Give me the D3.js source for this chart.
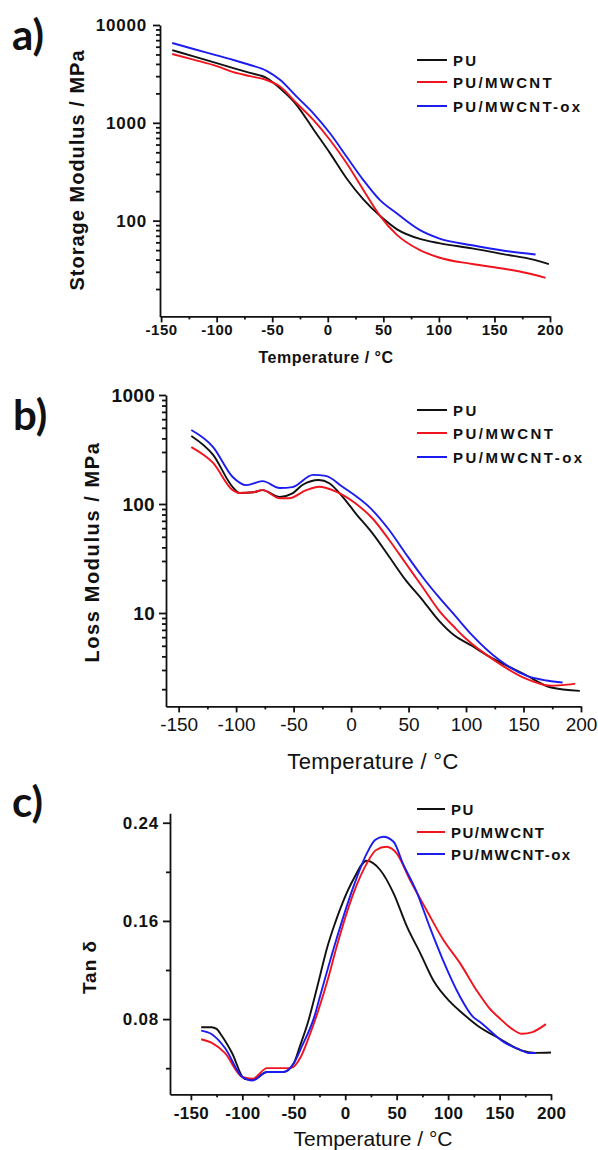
<!DOCTYPE html>
<html>
<head>
<meta charset="utf-8">
<script src="https://cdn.jsdelivr.net/npm/d3@7"></script>
<style>
  body { margin: 0; background: #fff; }
</style>
</head>
<body>
<div id="chart"></div>
<script>
// ---------- data ----------
const seriesNames = ["PU", "PU/MWCNT", "PU/MWCNT-ox"];
const seriesColors = ["#111111", "#f0141e", "#1c1cf0"];

const tempTicks = [-150, -100, -50, 0, 50, 100, 150, 200];

// a) storage modulus (MPa)
const storageT_PU = [-140, -120, -100, -85, -70, -55, -43, -28, -13, 2, 17, 32, 47, 62, 83, 100, 130, 160, 185, 199];
const storage_PU = [5540, 4750, 4070, 3630, 3240, 2870, 2250, 1520, 860, 490, 270, 165, 112, 82, 65, 59, 52, 45, 40, 36];
const storageT_CNT = [-140, -120, -100, -85, -70, -55, -43, -28, -13, 2, 17, 32, 47, 62, 83, 100, 130, 160, 180, 196];
const storage_CNT = [5050, 4400, 3800, 3300, 3000, 2740, 2350, 1585, 1070, 667, 386, 206, 112, 72, 50, 42, 36, 32, 29, 26];
const storageT_OX = [-140, -120, -100, -85, -70, -55, -43, -28, -13, 2, 17, 32, 47, 62, 83, 100, 130, 160, 187];
const storage_OX = [6550, 5650, 4900, 4390, 3900, 3400, 2750, 1850, 1250, 782, 450, 260, 162, 119, 80, 66, 56, 49, 45];
const storageTicks = [100, 1000, 10000];

// b) loss modulus (MPa)
const lossT_PU = [-139, -120, -103, -97, -85, -77, -62, -51, -42, -28, -19, -7.5, 4, 18.5, 33, 47.5, 62, 76, 90, 105, 120, 135, 150, 174, 199];
const loss_PU = [421, 282, 143, 126, 128, 134, 116, 125, 150, 166, 155, 117, 82, 54, 33, 20, 13.2, 8.6, 6.2, 5.0, 4.0, 3.3, 2.77, 2.07, 1.93];
const lossT_CNT = [-139, -120, -103, -97, -85, -77, -62, -54, -39, -28, -13, 4, 18.5, 33, 47.5, 62, 76, 91, 100, 126, 150, 174, 188, 195];
const loss_CNT = [333, 238, 134, 126, 128, 134, 113, 113, 134, 144, 130, 101, 74, 47, 28.6, 17.4, 10.7, 7.2, 5.8, 3.6, 2.55, 2.15, 2.2, 2.25];
const lossT_OX = [-139, -120, -103, -91, -77, -62, -51, -33, -22, -7.5, 18.5, 33, 47.5, 62, 76, 91, 105, 129, 153, 170, 184];
const loss_OX = [477, 333, 177, 149, 162, 140, 143, 185, 181, 144, 88, 58, 35, 21.5, 14.1, 9.3, 6.3, 3.7, 2.65, 2.4, 2.3];
const lossTicks = [10, 100, 1000];

// c) tan delta
const tanT_PU = [-140, -130, -125, -120, -110, -98, -90, -76, -60, -50, -44, -36, -30, -24, -18, -10, -2, 8, 21, 34, 47, 60, 73, 86, 102, 115, 128, 151, 171, 185, 200];
const tan_PU = [0.0734, 0.0734, 0.072, 0.0664, 0.0524, 0.0314, 0.0305, 0.0369, 0.0369, 0.044, 0.058, 0.078, 0.097, 0.117, 0.137, 0.158, 0.176, 0.194, 0.209, 0.2015, 0.1825, 0.1553, 0.1336, 0.111, 0.094, 0.084, 0.075, 0.0636, 0.0545, 0.0525, 0.0528];
const tanT_CNT = [-140, -130, -117, -100, -90, -76, -63, -53, -43, -35, -25, -17, -8, 8, 21, 30, 40, 50, 63, 79, 95, 112, 128, 140, 151, 162, 172, 182, 195];
const tan_CNT = [0.0636, 0.0608, 0.0524, 0.0328, 0.0314, 0.040, 0.040, 0.040, 0.0495, 0.066, 0.090, 0.112, 0.140, 0.1825, 0.2069, 0.2178, 0.2204, 0.215, 0.1933, 0.1689, 0.1450, 0.125, 0.103, 0.089, 0.0800, 0.072, 0.068, 0.0694, 0.0759];
const tanT_OX = [-140, -130, -117, -100, -90, -76, -60, -50, -42, -30, -24, -10, 8, 21, 29, 37, 47, 56, 70, 82, 95, 111, 124, 131, 155, 170, 178, 185];
const tan_OX = [0.0706, 0.0678, 0.0566, 0.0328, 0.0299, 0.0369, 0.0369, 0.044, 0.058, 0.082, 0.1, 0.141, 0.1879, 0.215, 0.2259, 0.2286, 0.2245, 0.2069, 0.1825, 0.1553, 0.1281, 0.0992, 0.082, 0.0776, 0.0608, 0.055, 0.0524, 0.0524];
const tanTicks = [0.08, 0.16, 0.24];
const tanMinor = [0.04, 0.12, 0.20];

// ---------- drawing ----------
const FONT = '"Liberation Sans", Arial, sans-serif';
const W = 598, H = 1150;

const svg = d3.select("#chart").append("svg")
  .attr("width", W).attr("height", H)
  .style("color", "#111");

function logMinors(lo, hi) {
  const out = [];
  for (let dec = Math.pow(10, Math.floor(Math.log10(lo))); dec < hi; dec *= 10) {
    for (let m = 2; m <= 9; m++) {
      const v = m * dec;
      if (v >= lo && v <= hi) out.push(v);
    }
  }
  return out;
}

function styleAxis(g) {
  g.selectAll("line, path").attr("stroke", "#111").attr("stroke-width", 1.8);
}

function drawPanel(o) {
  const g = svg.append("g");
  const x = o.x, y = o.y;

  // x axis
  const xa = g.append("g")
    .attr("transform", `translate(0,${y.range()[0]})`)
    .call(d3.axisBottom(x).tickValues(tempTicks).tickSize(6).tickSizeOuter(0)
      .tickPadding(o.xPad).tickFormat(d => d));
  styleAxis(xa);
  xa.selectAll("text")
    .attr("font-family", FONT).attr("font-size", o.xFont)
    .attr("font-weight", o.xBold ? "bold" : "normal")
    .style("letter-spacing", o.xSpace + "px");

  const xm = g.append("g")
    .attr("transform", `translate(0,${y.range()[0]})`)
    .call(d3.axisBottom(x).tickValues(d3.range(-125, 200, 50)).tickSize(3).tickFormat(""));
  xm.select(".domain").remove();
  styleAxis(xm);

  // y axis
  const ya = g.append("g")
    .attr("transform", `translate(${x.range()[0]},0)`)
    .call(d3.axisLeft(y).tickValues(o.yTicks).tickSize(7).tickSizeOuter(0)
      .tickPadding(o.yPad).tickFormat(o.yFormat));
  styleAxis(ya);
  ya.selectAll("text")
    .attr("font-family", FONT).attr("font-size", o.yFont).attr("font-weight", "bold")
    .style("letter-spacing", o.ySpace + "px");

  const ym = g.append("g")
    .attr("transform", `translate(${x.range()[0]},0)`)
    .call(d3.axisLeft(y).tickValues(o.yMinor).tickSize(4).tickFormat(""));
  ym.select(".domain").remove();
  styleAxis(ym);

  // curves
  const line = d3.line()
    .x(d => x(d[0])).y(d => y(d[1]))
    .curve(d3.curveMonotoneX);
  o.series.forEach((s, i) => {
    g.append("path")
      .datum(d3.zip(s[0], s[1]))
      .attr("fill", "none")
      .attr("stroke", seriesColors[i])
      .attr("stroke-width", 1.9)
      .attr("d", line);
  });

  // legend
  o.legendY.forEach((ly, i) => {
    g.append("line")
      .attr("x1", 417).attr("x2", o.legendX2).attr("y1", ly).attr("y2", ly)
      .attr("stroke", seriesColors[i]).attr("stroke-width", 2);
    g.append("text")
      .attr("x", o.legendX2 + 6).attr("y", ly + 5.5)
      .attr("font-family", FONT).attr("font-size", 15).attr("font-weight", "bold")
      .style("letter-spacing", o.legendSpace + "px")
      .attr("fill", "#111")
      .text(seriesNames[i]);
  });

  // axis titles
  g.append("text")
    .attr("x", o.xTitle[0]).attr("y", o.xTitle[1])
    .attr("text-anchor", "middle")
    .attr("font-family", FONT).attr("font-size", o.xTitleFont)
    .attr("font-weight", o.xTitleBold ? "bold" : "normal")
    .style("letter-spacing", o.xTitleSpace + "px")
    .attr("fill", "#111")
    .text("Temperature / °C");

  g.append("text")
    .attr("transform", `translate(${o.yTitle[0]},${o.yTitle[1]}) rotate(-90)`)
    .attr("text-anchor", "middle").attr("dominant-baseline", "central")
    .attr("font-family", FONT).attr("font-size", o.yTitleFont).attr("font-weight", "bold")
    .style("letter-spacing", o.yTitleSpace + "px")
    .attr("fill", "#111")
    .text(o.yTitleText);

  // panel letter
  g.append("text")
    .attr("x", o.letter[0]).attr("y", o.letter[1])
    .attr("font-family", "Lato, 'Open Sans', sans-serif")
    .attr("font-size", 42).attr("font-weight", "bold")
    .attr("fill", "#111")
    .text(o.letterText);
}

// a) storage modulus
drawPanel({
  x: d3.scaleLinear().domain([-151, 200]).range([160, 550]),
  y: d3.scaleLog().domain([10.5, 10000]).range([316.4, 25]),
  yTicks: storageTicks, yMinor: logMinors(10.5, 10000), yFormat: d => d,
  series: [[storageT_PU, storage_PU], [storageT_CNT, storage_CNT], [storageT_OX, storage_OX]],
  xPad: 2, xFont: 15, xBold: true, xSpace: 0.5,
  yPad: 6, yFont: 17, ySpace: 0.8,
  legendY: [60, 82, 106], legendX2: 447, legendSpace: 2.3,
  xTitle: [326, 363], xTitleFont: 16, xTitleBold: true, xTitleSpace: 0.5,
  yTitle: [77, 170], yTitleFont: 20, yTitleSpace: 1, yTitleText: "Storage Modulus / MPa",
  letter: [12, 50], letterText: "a)"
});

// b) loss modulus
drawPanel({
  x: d3.scaleLinear().domain([-161, 200]).range([166, 581]),
  y: d3.scaleLog().domain([1.39, 1000]).range([706.4, 395]),
  yTicks: lossTicks, yMinor: logMinors(1.39, 1000), yFormat: d => d,
  series: [[lossT_PU, loss_PU], [lossT_CNT, loss_CNT], [lossT_OX, loss_OX]],
  xPad: 5, xFont: 19, xBold: false, xSpace: 0,
  yPad: 4, yFont: 19, ySpace: 0.3,
  legendY: [410, 433, 457], legendX2: 447, legendSpace: 2.5,
  xTitle: [373, 769], xTitleFont: 22, xTitleBold: false, xTitleSpace: 0.3,
  yTitle: [92, 552], yTitleFont: 20, yTitleSpace: 1.6, yTitleText: "Loss Modulus / MPa",
  letter: [13, 430], letterText: "b)"
});

// c) tan delta
drawPanel({
  x: d3.scaleLinear().domain([-170.3, 200]).range([170, 551]),
  y: d3.scaleLinear().domain([0.0187, 0.2477]).range([1094.3, 813.3]),
  yTicks: tanTicks, yMinor: tanMinor, yFormat: d3.format(".2f"),
  series: [[tanT_PU, tan_PU], [tanT_CNT, tan_CNT], [tanT_OX, tan_OX]],
  xPad: 6.5, xFont: 17, xBold: true, xSpace: 0.3,
  yPad: 4, yFont: 17, ySpace: 0.8,
  legendY: [809, 832, 854], legendX2: 445, legendSpace: 1.5,
  xTitle: [373, 1146], xTitleFont: 21, xTitleBold: false, xTitleSpace: 0,
  yTitle: [89, 967], yTitleFont: 19, yTitleSpace: 1, yTitleText: "Tan δ",
  letter: [12, 817], letterText: "c)"
});
</script>
</body>
</html>
